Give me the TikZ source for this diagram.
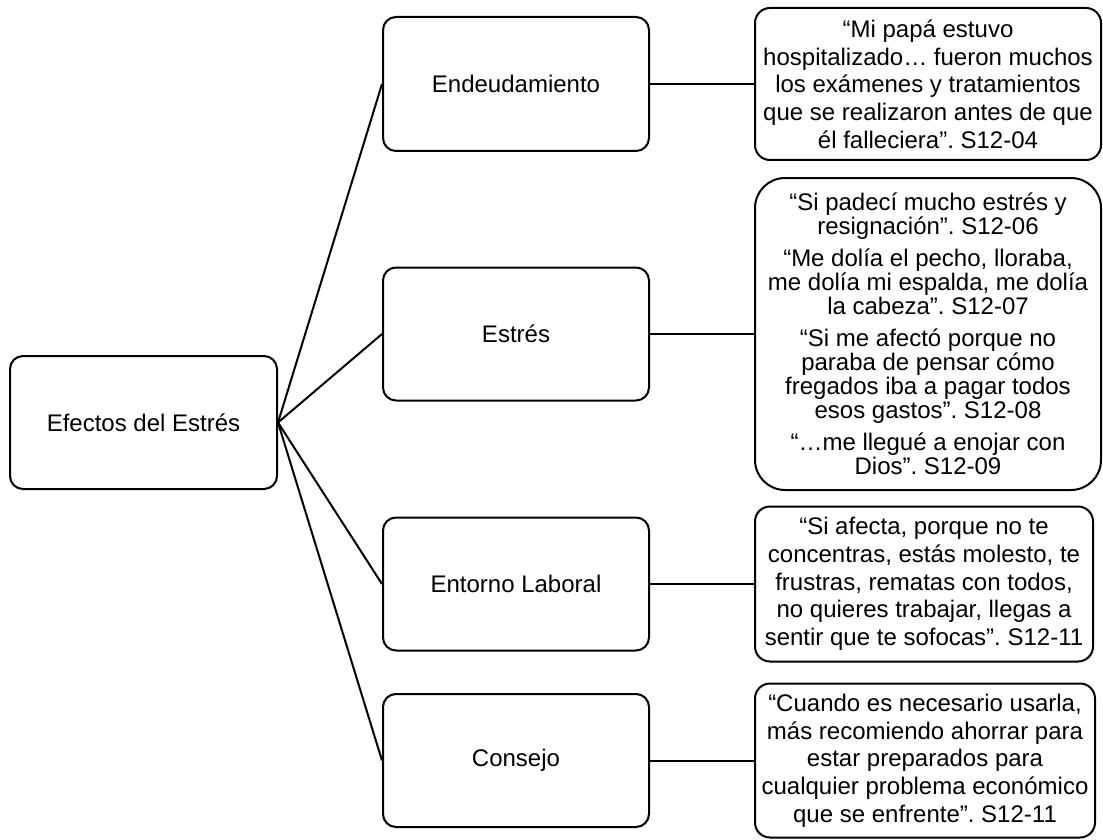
\documentclass[tikz,border=0pt]{standalone}
\usepackage{fontspec}
\setmainfont{Liberation Sans}
\frenchspacing
\begin{document}
\begin{tikzpicture}[x=1pt,y=-1pt,
  box/.style={draw=black, line width=2pt, fill=white, inner sep=0pt, align=center,
    font=\fontsize{24}{27.7}\selectfont},
  midbox/.style={box, rounded corners=13pt, minimum width=266pt, minimum height=133pt},
  quotebox/.style={box, rounded corners=15pt},
  link/.style={line width=2pt}]
\useasboundingbox (0,0) rectangle (1103,840);

% root
\node[midbox, minimum width=267pt] (root) at (143.5,422.5) {Efectos del Estrés};

% second level
\node[midbox, minimum height=134pt] (m1) at (516,84) {Endeudamiento};
\node[midbox] (m2) at (516,334) {Estrés};
\node[midbox] (m3) at (516,584) {Entorno Laboral};
\node[midbox] (m4) at (516,760.5) {Consejo};

% quotations
\node[quotebox, minimum width=346pt, minimum height=152pt] (r1) at (928,84)
  {“Mi papá estuvo\\hospitalizado… fueron muchos\\los exámenes y tratamientos\\que se realizaron antes de que\\él falleciera”. S12-04};
\node[quotebox, rounded corners=30pt, minimum width=346pt, minimum height=312pt,
  font=\fontsize{24}{24}\selectfont] (r2) at (928,334)
  {“Si padecí mucho estrés y\\resignación”. S12-06\\[8pt]
   “Me dolía el pecho, lloraba,\\me dolía mi espalda, me dolía\\la cabeza”. S12-07\\[8pt]
   “Si me afectó porque no\\paraba de pensar cómo\\fregados iba a pagar todos\\esos gastos”. S12-08\\[8pt]
   “…me llegué a enojar con\\Dios”. S12-09};
\node[quotebox, minimum width=338pt, minimum height=155pt] (r3) at (924,584)
  {“Si afecta, porque no te\\concentras, estás molesto, te\\frustras, rematas con todos,\\no quieres trabajar, llegas a\\sentir que te sofocas”. S12-11};
\node[quotebox, minimum width=340pt, minimum height=154pt] (r4) at (925,760.5)
  {“Cuando es necesario usarla,\\más recomiendo ahorrar para\\estar preparados para\\cualquier problema económico\\que se enfrente”. S12-11};

% connectors
\foreach \m in {m1,m2,m3,m4}
  \draw[link] (root.east) -- (\m.west);
\draw[link] (m1.east) -- (r1.west);
\draw[link] (m2.east) -- (r2.west);
\draw[link] (m3.east) -- (r3.west);
\draw[link] (m4.east) -- (r4.west);
\end{tikzpicture}
\end{document}
